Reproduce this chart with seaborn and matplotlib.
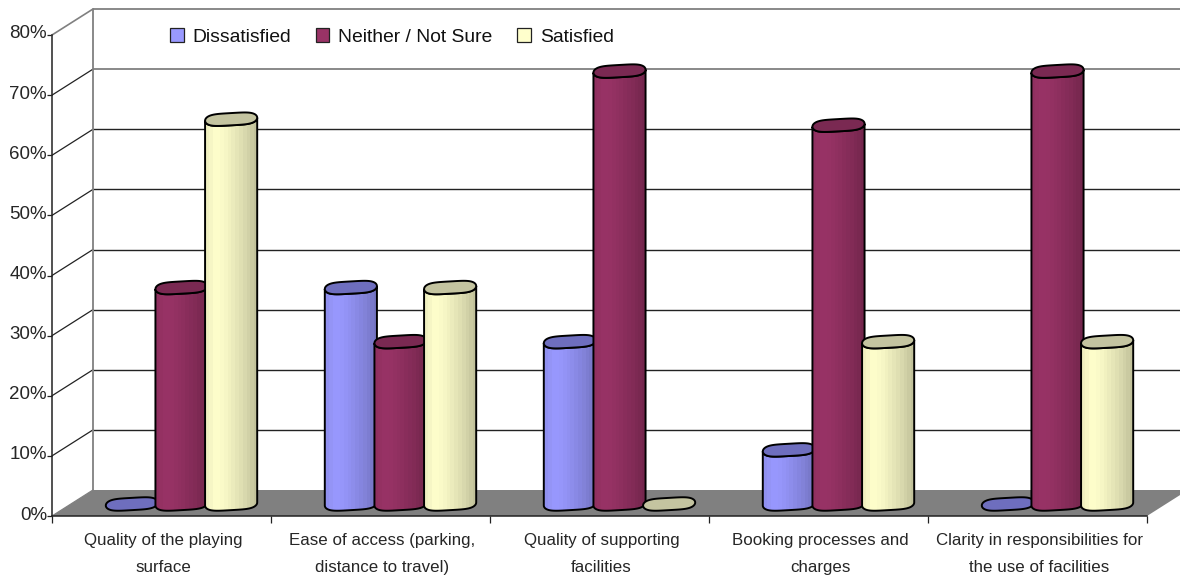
import numpy as np
import pandas as pd
import matplotlib
matplotlib.use("Agg")
import matplotlib.pyplot as plt
from matplotlib.patches import Polygon
from matplotlib.transforms import ScaledTranslation
import seaborn as sns

categories = [
    "Quality of the playing\nsurface",
    "Ease of access (parking,\ndistance to travel)",
    "Quality of supporting\nfacilities",
    "Booking processes and\ncharges",
    "Clarity in responsibilities for\nthe use of facilities",
]
responses = ["Dissatisfied", "Neither / Not Sure", "Satisfied"]
dissatisfied = [0, 36, 27, 9, 0]
neither = [36, 27, 72, 63, 72]
satisfied = [64, 36, 0, 27, 27]
percent_ticks = [0, 10, 20, 30, 40, 50, 60, 70, 80]
percent_labels = ["0%", "10%", "20%", "30%", "40%", "50%", "60%", "70%", "80%"]

body_colors = ["#9999FF", "#993366", "#FFFFCC"]
cap_colors = ["#6E6EBE", "#7A2952", "#C4C4A0"]

sns.set_theme(style="white")
plt.rcParams["font.family"] = ["Liberation Sans", "DejaVu Sans"]
plt.rcParams["text.color"] = "#111111"

W, H = 1180, 575
fig = plt.figure(figsize=(W / 100, H / 100), dpi=100, facecolor="white")


def place(left, top, right, bottom):
    return [left / W, 1 - bottom / H, (right - left) / W, (bottom - top) / H]


# Front plane of the box: carries the axis lines, ticks and labels.
frame = fig.add_axes(place(52, 35, 1147, 516))
frame.set_xlim(0, 5)
frame.set_ylim(0, 80)
frame.patch.set_visible(False)
depth_x = 41 / (1095 / 5)
depth_y = 26 / (481 / 80)

floor = Polygon(
    [(0, 0), (5, 0), (5 + depth_x, depth_y), (depth_x, depth_y)],
    closed=True, facecolor="#808080", edgecolor="none", clip_on=False, zorder=1,
)
frame.add_patch(floor)
for v in percent_ticks:
    grey = v >= 70
    c, lw = ("#808080", 1.3) if grey else ("#222222", 1.0)
    if v > 0:
        frame.plot([depth_x, 5 + depth_x], [v + depth_y] * 2, color=c, lw=lw,
                   clip_on=False, zorder=2, solid_capstyle="butt")
    frame.plot([0, depth_x], [v, v + depth_y],
               color="#808080" if v in (0, 80) else "#222222",
               lw=1.2 if v == 80 else 0.9, clip_on=False, zorder=2)
frame.plot([depth_x, depth_x], [depth_y, 80 + depth_y], color="#808080", lw=1.3,
           clip_on=False, zorder=2)

for side in ("top", "right"):
    frame.spines[side].set_visible(False)
for side in ("left", "bottom"):
    frame.spines[side].set_color("#222222")
    frame.spines[side].set_linewidth(1.1)
    frame.spines[side].set_zorder(3)

frame.set_yticks(percent_ticks, percent_labels)
frame.set_xticks(range(6), [""] * 6)
frame.set_xticks(np.arange(5) + 0.5, categories, minor=True)
frame.tick_params(axis="y", length=3.6, width=0.9, color="#222222", pad=0,
                  labelsize=13.5, left=True)
frame.tick_params(axis="x", which="major", length=5, width=0.9, color="#222222", bottom=True)
frame.tick_params(axis="x", which="minor", length=0, pad=12.5, labelsize=12.2)
for lab in frame.get_xticklabels(minor=True):
    lab.set_linespacing(1.93)
    lab.set_transform(lab.get_transform() + ScaledTranslation(2 / 100, 0, fig.dpi_scale_trans))
for lab in frame.get_yticklabels():
    lab.set_transform(lab.get_transform() + ScaledTranslation(0, 3 / 100, fig.dpi_scale_trans))

# Mid-depth plane: same scales as the front one, shifted into the box.
bars_ax = fig.add_axes(place(52 + 20, 35 - 12, 1147 + 20, 516 - 12))
bars_ax.patch.set_visible(False)
df = pd.DataFrame({
    "category": categories * 3,
    "response": np.repeat(responses, len(categories)),
    "share": dissatisfied + neither + satisfied,
})
sns.barplot(data=df, x="category", y="share", hue="response", hue_order=responses,
            palette=body_colors, width=0.68, gap=0, saturation=1, errorbar=None,
            edgecolor="black", linewidth=0.8, ax=bars_ax)

rim_half = 1.15      # half height of a cylinder rim, in percent units
rim_tilt = 0.25      # rim rises towards the right
stops = [0.0, 0.2, 0.35, 0.55, 0.75, 1.0]
shade = [0.93, 1.0, 0.98, 0.92, 0.85, 0.75]


def rim(cx, w, y0, t):
    return (cx + w / 2 * np.cos(t),
            y0 + rim_half * np.sin(t) + rim_tilt * np.cos(t) + 0.13 * np.sin(3 * t))


order = 10
for s, container in enumerate(bars_ax.containers):
    rgb = np.array(matplotlib.colors.to_rgb(body_colors[s]))
    bands = np.interp((np.arange(14) + 0.5) / 14, stops, shade)
    strip = (bands[:, None] * rgb)[None, :, :]
    for bar in container:
        w = bar.get_width() * 1.05
        cx = bar.get_x() + bar.get_width() / 2
        v = bar.get_height()
        bar.set_visible(False)
        if v > 0:
            low = np.linspace(np.pi, 2 * np.pi, 40)
            high = np.linspace(2 * np.pi, np.pi, 40)
            bx, by = rim(cx, w, 0, low)
            tx, ty = rim(cx, w, v, high)
            outline = np.column_stack([np.r_[bx, tx], np.r_[by, ty]])
            body = Polygon(outline, closed=True, facecolor="none", edgecolor="black",
                           lw=1.4, clip_on=False, zorder=order + 1)
            bars_ax.add_patch(body)
            im = bars_ax.imshow(strip, extent=(cx - w / 2, cx + w / 2, -2, v + 2),
                                aspect="auto", interpolation="nearest", zorder=order)
            im.set_clip_path(body)
            im.set_clip_box(fig.bbox)
        full = np.linspace(0, 2 * np.pi, 80)
        ex, ey = rim(cx, w, v, full)
        bars_ax.add_patch(Polygon(np.column_stack([ex, ey]), closed=True,
                                  facecolor=cap_colors[s], edgecolor="black", lw=1.4,
                                  clip_on=False, zorder=order + 2))
        order += 3

bars_ax.set_xlim(-0.5, 4.5)
bars_ax.set_ylim(0, 80)
bars_ax.set_axis_off()

handles, labels = bars_ax.get_legend_handles_labels()
bars_ax.get_legend().remove()
leg = fig.legend(handles, labels, ncol=3, frameon=False, loc="upper left",
                 bbox_to_anchor=(170 / W, 1 - 28 / H), borderaxespad=0, borderpad=0,
                 fontsize=13.9, handlelength=0.7, handleheight=0.7,
                 handletextpad=0.45, columnspacing=1.3)
for h in leg.legend_handles:
    h.set_visible(True)
    h.set_edgecolor("#222222")
    h.set_linewidth(0.9)

fig.savefig("out.png", dpi=100)
